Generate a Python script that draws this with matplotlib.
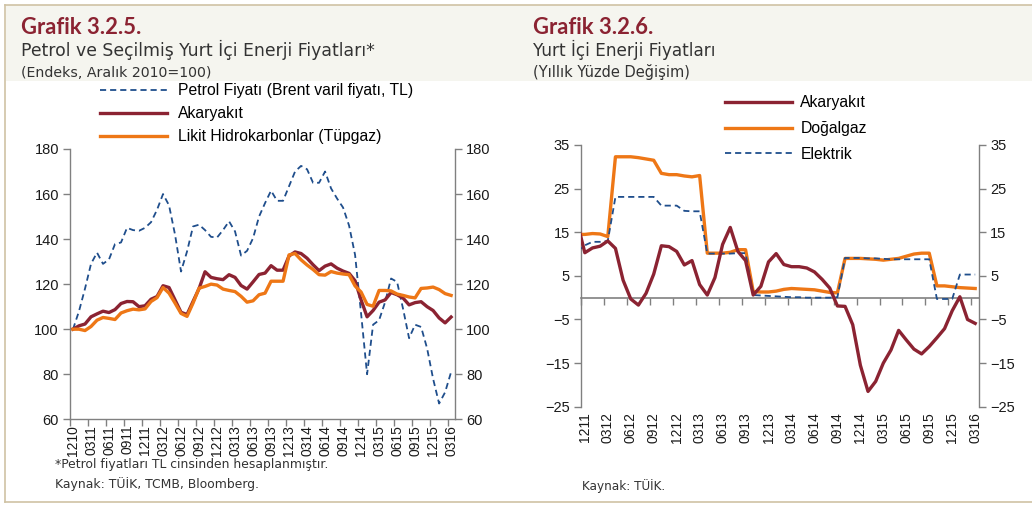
import matplotlib
matplotlib.use("Agg")
import matplotlib.pyplot as plt
from matplotlib.patches import Rectangle
from matplotlib.lines import Line2D
import numpy as np

# ---------------- DATA ----------------
# Left chart: monthly index (Dec 2010 = 100), Dec 2010 .. Mar 2016
left_ticklabels = ["1210", "0311", "0611", "0911", "1211", "0312", "0612", "0912",
                   "1212", "0313", "0613", "0913", "1213", "0314", "0614", "0914",
                   "1214", "0315", "0615", "0915", "1215", "0316"]
petrol = [100, 108, 118, 129, 134, 129, 131, 137.8, 138.5, 145, 144, 143.7, 145, 147.5,
          153, 160, 155, 142, 125.6, 134.5, 145.6, 146.4, 144, 141, 140.7, 144, 147.9,
          143.4, 132.7, 134.8, 140.4, 150, 156, 161.5, 157, 157, 163.5, 170, 172.5, 171,
          165, 165, 170, 162.5, 158, 154, 146, 133, 107, 80, 102, 104, 112, 122.5, 121,
          109, 96, 102, 101, 91.5, 78, 67, 72, 81]
akaryakit_idx = [100, 101.5, 102.3, 105.5, 106.8, 108, 107.4, 108.7, 111.4, 112.3, 112.2,
                 110, 110.4, 113.3, 114.5, 119.3, 118.5, 113, 107.5, 106.5, 112.3, 118,
                 125.5, 123, 122.4, 122, 124.2, 123, 119.4, 117.8, 121, 124.3, 124.9,
                 128.2, 126.2, 126.2, 132.5, 134.3, 133.6, 131.5, 128.6, 126, 128, 129,
                 127.1, 125.8, 124.8, 121.5, 113, 105.5, 108.3, 112, 113, 116.3, 115.3,
                 113.8, 110.8, 111.8, 112.2, 110, 108.3, 105, 102.8, 105.4]
likit = [100, 100, 99.4, 101.2, 104, 105.2, 104.8, 104.3, 107.2, 108.2, 108.9, 108.6, 109,
         112.3, 114, 118.5, 116, 111.6, 107, 105.7, 111.6, 118.2, 119, 120, 119.6, 117.8,
         117.2, 116.7, 114.6, 112, 112.6, 115.3, 116, 121.3, 121.3, 121.3, 133, 133.6,
         130.8, 128.5, 126.5, 124.2, 124, 125.6, 124.9, 124.5, 124.2, 119.2, 116.5, 111,
         110.2, 117.2, 117.2, 117, 115.6, 115, 114.3, 113.9, 118.1, 118.3, 118.7, 117.6,
         115.8, 115]

# Right chart: annual % change, Nov 2011 .. Mar 2016 (Nov 2011 lies just outside the axis)
right_ticklabels = ["1211", "0312", "0612", "0912", "1212", "0313", "0613", "0913",
                    "1213", "0314", "0614", "0914", "1214", "0315", "0615", "0915",
                    "1215", "0316"]
akaryakit_pct = [17.3, 10.3, 11.4, 11.8, 13.0, 11.3, 4.0, -0.3, -1.7, 1.0, 5.4, 11.9, 11.7,
                 10.6, 7.5, 8.5, 3.0, 0.6, 4.6, 12.2, 16.1, 10.6, 8.5, 0.6, 2.6, 8.2, 10.1,
                 7.6, 7.1, 7.1, 6.8, 5.9, 4.2, 2.2, -1.9, -2.0, -6.2, -15.5, -21.5, -19.2,
                 -15.0, -12.0, -7.5, -9.7, -11.8, -12.9, -11.2, -9.2, -7.1, -3.0, 0.2,
                 -5.0, -5.9]
dogalgaz = [14.5, 14.5, 14.7, 14.6, 14.0, 32.3, 32.3, 32.3, 32.1, 31.8, 31.5, 28.5, 28.2,
            28.2, 27.9, 27.7, 28.0, 10.2, 10.2, 10.2, 10.4, 11.0, 11.0, 1.4, 1.3, 1.3, 1.5,
            1.9, 2.1, 2.0, 1.9, 1.8, 1.5, 1.2, 1.1, 9.0, 9.0, 9.0, 8.9, 8.8, 8.6, 8.8, 9.0,
            9.5, 10.0, 10.2, 10.2, 2.7, 2.7, 2.5, 2.3, 2.2, 2.1]
elektrik = [10.6, 12.0, 12.8, 12.8, 13.0, 23.1, 23.1, 23.1, 23.1, 23.1, 23.1, 21.1, 21.1,
            21.1, 19.9, 19.8, 19.8, 10.1, 10.1, 10.1, 10.1, 10.2, 10.2, 0.6, 0.5, 0.4, 0.3,
            0.2, 0.1, 0.1, 0.0, 0.0, 0.0, 0.0, 0.1, 9.1, 9.1, 9.1, 9.0, 9.0, 8.9, 8.8, 8.8,
            8.8, 8.8, 8.8, 8.8, -0.3, -0.3, -0.3, 5.3, 5.3, 5.3]

# ---------------- STYLE ----------------
RED = "#8B2332"
ORANGE = "#EE7716"
BLUE = "#1F4E8C"
GRAY = "#808080"
TXT = "#1a1a1a"
TITLE_FONT = ["DejaVu Sans"]
HEAD_FONT = ["Lato", "DejaVu Sans"]
AX_FONT = ["Liberation Sans", "DejaVu Sans"]

W, H = 1032, 505
fig = plt.figure(figsize=(W / 100, H / 100), dpi=100)
fig.patch.set_facecolor("white")
renderer = fig.canvas.get_renderer()


def fx(px):
    return px / W


def fy(py):
    return 1 - py / H


def fit_text(x0, y0, s, width_px, size, **kw):
    t = fig.text(fx(x0), fy(y0), s, fontsize=size, va="baseline", **kw)
    w = t.get_window_extent(renderer=renderer).width
    t.set_fontsize(size * width_px / w)
    return t


# header band and frame
fig.patches.append(Rectangle((fx(6), fy(81)), 1 - fx(6), fy(5) - fy(81),
                             transform=fig.transFigure, facecolor="#F5F5EF",
                             edgecolor="none", zorder=0))
fig.add_artist(Line2D([fx(5), 1], [fy(4.5), fy(4.5)], color="#CFC2A4", lw=1.2))
fig.add_artist(Line2D([fx(5), fx(5)], [fy(4.5), fy(501.5)], color="#CFC2A4", lw=1.2))
fig.add_artist(Line2D([fx(5), 1], [fy(501.5), fy(501.5)], color="#CFC2A4", lw=1.2))

# titles
for x0, t1, t2, w2, t3, w3 in [(21, "Grafik 3.2.5.",
                                "Petrol ve Seçilmiş Yurt İçi Enerji Fiyatları*", 354,
                                "(Endeks, Aralık 2010=100)", 190),
                               (533, "Grafik 3.2.6.", "Yurt İçi Enerji Fiyatları", 183,
                                "(Yıllık Yüzde Değişim)", 157)]:
    fit_text(x0, 34, t1, 121, 14, color=RED, fontweight="bold", family=HEAD_FONT)
    fit_text(x0, 56, t2, w2, 11, color="#333333", family=TITLE_FONT)
    fit_text(x0, 77, t3, w3, 9, color="#333333", family=TITLE_FONT)

fit_text(55, 468, "*Petrol fiyatları TL cinsinden hesaplanmıştır.", 273, 8.5,
         color="#333333", family=TITLE_FONT)
fit_text(55, 488, "Kaynak: TÜİK, TCMB, Bloomberg.", 204, 8.5, color="#333333",
         family=TITLE_FONT)
fit_text(582, 490, "Kaynak: TÜİK.", 83, 8.5, color="#333333", family=TITLE_FONT)


def style_axes(ax):
    ax.set_facecolor("none")
    ax.spines["top"].set_visible(False)
    for s in ["left", "right", "bottom"]:
        ax.spines[s].set_color(GRAY)
        ax.spines[s].set_linewidth(1.0)
    ax.tick_params(axis="y", which="both", left=True, right=True, labelleft=True,
                   labelright=True, direction="out", length=5, width=1.0, color=GRAY,
                   labelsize=10.5, labelcolor=TXT, pad=3)
    for lab in ax.get_yticklabels():
        lab.set_family(AX_FONT)


LEG_SIZE = 11.3

# ---------------- LEFT CHART ----------------
axL = fig.add_axes([fx(70), fy(419.3), fx(455) - fx(70), fy(149) - fy(419.3)])
xL = np.arange(len(petrol))
axL.plot(xL, petrol, color=BLUE, lw=1.3, ls=(0, (3.4, 2.2)),
         label="Petrol Fiyatı (Brent varil fiyatı, TL)", zorder=3)
axL.plot(xL, akaryakit_idx, color=RED, lw=2.4, label="Akaryakıt", zorder=4,
         solid_joinstyle="round")
axL.plot(xL, likit, color=ORANGE, lw=2.4, label="Likit Hidrokarbonlar (Tüpgaz)", zorder=5,
         solid_joinstyle="round")
axL.set_ylim(60, 180)
axL.set_yticks(np.arange(60, 181, 20))
axL.set_xlim(-0.5, 63.65)
axL.set_xticks(np.arange(0, len(petrol), 3))
axL.set_xticklabels(left_ticklabels, rotation=90, family=AX_FONT, fontsize=10, color=TXT)
axL.set_xticks(np.arange(-0.5, len(petrol), 3), minor=True)
axL.tick_params(axis="x", which="major", length=0, pad=4)
axL.tick_params(axis="x", which="minor", length=5, width=1.0, color=GRAY, direction="out")
style_axes(axL)

fig.legend(handles=axL.get_lines(), loc="upper left", bbox_to_anchor=(fx(100), fy(83.5)),
           frameon=False, prop={"family": AX_FONT, "size": LEG_SIZE}, handlelength=4.3,
           handletextpad=0.65, labelspacing=0.5, borderaxespad=0, borderpad=0)

# ---------------- RIGHT CHART ----------------
axR = fig.add_axes([fx(581), fy(406.7), fx(979) - fx(581), fy(145) - fy(406.7)])
xR = np.arange(-1, len(akaryakit_pct) - 1)
axR.plot(xR, akaryakit_pct, color=RED, lw=2.4, label="Akaryakıt", zorder=5,
         solid_joinstyle="round")
axR.plot(xR, dogalgaz, color=ORANGE, lw=2.4, label="Doğalgaz", zorder=4,
         solid_joinstyle="round")
axR.plot(xR, elektrik, color=BLUE, lw=1.3, ls=(0, (3.4, 2.2)), label="Elektrik", zorder=4.5)
axR.set_ylim(-25, 35)
axR.set_yticks(np.arange(-25, 36, 10))
axR.set_xlim(-0.5, 51.5)
axR.set_xticks(np.arange(0, 52, 3))
axR.set_xticklabels(right_ticklabels, rotation=90, family=AX_FONT, fontsize=10, color=TXT)
axR.tick_params(axis="x", which="major", length=0, pad=4)
axR.spines["bottom"].set_visible(False)
style_axes(axR)
# zero line with tick marks
zero_ax = axR.secondary_xaxis(25 / 60)
zero_ax.spines["bottom"].set_color(GRAY)
zero_ax.spines["bottom"].set_linewidth(1.2)
zero_ax.set_xticks(np.arange(-0.5, 52, 3))
zero_ax.tick_params(axis="x", length=5, width=1.0, color=GRAY, direction="out",
                    labelbottom=False)

fig.legend(handles=axR.get_lines(), loc="upper left", bbox_to_anchor=(fx(725), fy(95.5)),
           frameon=False, prop={"family": AX_FONT, "size": LEG_SIZE}, handlelength=4.3,
           handletextpad=0.5, labelspacing=0.68, borderaxespad=0, borderpad=0)

fig.savefig("out.png", dpi=100, facecolor="white")
